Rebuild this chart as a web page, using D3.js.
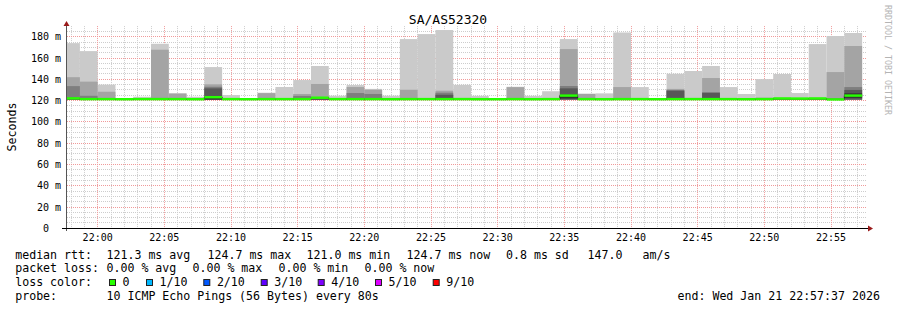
<!DOCTYPE html>
<html>
<head>
<meta charset="utf-8">
<script src="https://cdn.jsdelivr.net/npm/d3@7"></script>
<style>
  body { margin: 0; background: #fff; }
  svg { display: block; }
</style>
</head>
<body>
<svg width="897" height="310"></svg>
<script>
// time window and 80 s steps (end time of each step)
const viewStart = "21:57:42";
const viewEnd = "22:57:42";
const stepEnds = [
  "21:58:40", "22:00:00", "22:01:20", "22:02:40", "22:04:00", "22:05:20", "22:06:40", "22:08:00", "22:09:20",
  "22:10:40", "22:12:00", "22:13:20", "22:14:40", "22:16:00", "22:17:20", "22:18:40", "22:20:00", "22:21:20",
  "22:22:40", "22:24:00", "22:25:20", "22:26:40", "22:28:00", "22:29:20", "22:30:40", "22:32:00", "22:33:20",
  "22:34:40", "22:36:00", "22:37:20", "22:38:40", "22:40:00", "22:41:20", "22:42:40", "22:44:00", "22:45:20",
  "22:46:40", "22:48:00", "22:49:20", "22:50:40", "22:52:00", "22:53:20", "22:54:40", "22:56:00", "22:57:20"
];

// sorted ping rtt per step (ms): rtt10 = slowest ping ... rttLow = fastest pings
const rtt10 = [174.0, 166.5, 135.0, 122.2, 123.6, 173.4, 127.0, 123.6, 151.5, 125.2, 122.0, 127.4, 132.8, 139.3, 152.5,
               124.6, 134.6, 131.0, 124.6, 177.8, 182.5, 186.3, 134.8, 124.5, 121.9, 133.0, 124.5, 128.8, 177.8, 126.6,
               126.8, 184.0, 132.7, 122.0, 145.2, 147.8, 152.5, 132.7, 126.2, 140.2, 145.0, 127.1, 173.1, 180.7, 183.5];
const rtt9  = [142.0, 137.8, 128.3, 121.8, 122.0, 167.8, 126.5, 122.0, 135.3, 122.0, 121.6, 127.0, 122.2, 126.2, 135.6,
               122.0, 132.7, 130.2, 122.0, 130.2, 122.3, 129.3, 122.5, 122.0, 121.6, 132.6, 122.0, 122.0, 168.4, 126.2,
               122.0, 132.7, 122.0, 121.6, 131.0, 122.5, 141.2, 122.0, 122.0, 122.8, 122.2, 122.0, 122.2, 146.8, 171.3];
const rtt8  = [133.6, 124.5, 122.0, 121.5, 121.5, 122.5, 122.0, 121.5, 133.0, 121.5, 121.4, 122.0, 121.8, 124.4, 122.5,
               121.5, 127.1, 126.2, 121.5, 122.0, 121.8, 127.4, 121.8, 121.5, 121.4, 122.0, 121.5, 121.5, 133.7, 122.0,
               121.5, 122.0, 121.5, 121.4, 129.8, 121.8, 128.0, 121.5, 121.5, 121.8, 121.8, 121.5, 121.8, 122.0, 132.7];
const rtt7  = [122.5, 122.0, 121.5, 121.3, 121.3, 122.0, 121.5, 121.3, 131.5, 121.3, 121.3, 121.5, 121.5, 122.0, 122.0,
               121.3, 122.0, 122.0, 121.3, 121.5, 121.5, 125.5, 121.5, 121.3, 121.3, 121.5, 121.3, 121.3, 131.5, 121.5,
               121.3, 121.5, 121.3, 121.3, 129.3, 121.5, 127.1, 121.3, 121.3, 121.5, 121.5, 121.3, 121.5, 121.5, 130.0];
const rtt6  = [122.0, 121.5, 121.3, 121.2, 121.2, 121.5, 121.3, 121.2, 123.5, 121.2, 121.2, 121.3, 121.3, 121.5, 121.8,
               121.2, 121.5, 121.5, 121.2, 121.3, 121.3, 122.0, 121.3, 121.2, 121.2, 121.3, 121.2, 121.2, 125.5, 121.3,
               121.2, 121.3, 121.2, 121.2, 122.0, 121.3, 122.0, 121.2, 121.2, 121.3, 121.3, 121.2, 121.3, 121.3, 126.8];
const rtt5  = [121.2, 121.1, 121.0, 121.0, 121.0, 121.1, 121.0, 121.0, 121.0, 121.0, 121.0, 121.1, 121.0, 121.1, 121.2,
               121.0, 121.1, 121.0, 121.0, 121.1, 121.0, 121.1, 121.0, 121.0, 121.0, 121.1, 121.0, 121.0, 122.0, 121.0,
               121.0, 121.1, 121.0, 121.0, 121.1, 121.0, 121.1, 121.0, 121.0, 121.0, 121.1, 121.0, 121.1, 121.0, 122.6];
const rttLow = [120.9, 120.8, 120.9, 120.8, 120.9, 120.8, 120.9, 120.8, 120.8, 120.9, 120.8, 120.9, 120.8, 120.9, 120.9,
                120.8, 120.9, 120.8, 120.9, 120.8, 120.9, 120.8, 120.9, 120.8, 120.9, 120.8, 120.9, 120.8, 120.9, 120.8,
                120.9, 120.8, 120.9, 120.8, 120.9, 120.8, 120.9, 120.8, 120.9, 120.8, 120.9, 120.8, 120.9, 120.8, 120.9];
const medians = [122.1, 121.4, 121.4, 121.3, 121.4, 121.4, 121.4, 121.3, 123.2, 121.4, 121.3, 121.4, 121.4, 121.4, 122.7,
                 121.4, 121.4, 121.4, 121.3, 121.4, 121.4, 121.4, 121.4, 121.3, 121.3, 121.4, 121.3, 121.4, 124.7, 121.4,
                 121.3, 121.4, 121.4, 121.3, 121.4, 121.4, 121.4, 121.4, 121.3, 121.4, 122.0, 121.9, 122.0, 121.1, 124.7];

// legend texts
const rttStats = ["121.3 ms avg", "124.7 ms max", "121.0 ms min", "124.7 ms now", "0.8 ms sd", "147.0", "am/s"];
const lossStats = ["0.00 % avg", "0.00 % max", "0.00 % min", "0.00 % now"];
const lossLabels = ["0", "1/10", "2/10", "3/10", "4/10", "5/10", "9/10"];
const lossColors = ["#26ff00", "#00b8ff", "#0059ff", "#5e00ff", "#7e00ff", "#dd00ff", "#ff0000"];

const svg = d3.select("svg");
const mono = "DejaVu Sans Mono, monospace";
const parseTime = d3.timeParse("%Y-%m-%d %H:%M:%S");
const day = "2026-01-21 ";

const plotLeft = 67, plotRight = 867, plotBottom = 228.3, plotTop = 26.1;

const x = d3.scaleTime()
  .domain([parseTime(day + viewStart), parseTime(day + viewEnd)])
  .range([plotLeft, plotRight]);
const y = d3.scaleLinear().domain([0, 190]).range([plotBottom, plotTop]);

const px = v => Math.floor(v) + 0.5;

// grid: minor first, major on top
const grid = svg.append("g").attr("fill", "none").attr("stroke-dasharray", "1,1");
const yMajor = y.ticks(10);
const yMinor = y.ticks(40).filter(v => v > 0 && v < 190 && !yMajor.includes(v));
const xMajorT = x.ticks(d3.timeMinute.every(5));
const xMinorT = x.ticks(d3.timeMinute.every(1)).filter(t => t.getMinutes() % 5 !== 0);

grid.selectAll(".hmin").data(yMinor).join("line")
  .attr("x1", plotLeft).attr("x2", plotRight)
  .attr("y1", d => px(y(d))).attr("y2", d => px(y(d)))
  .attr("stroke", "#cdcdcd");
grid.selectAll(".vmin").data(xMinorT).join("line")
  .attr("x1", d => px(x(d))).attr("x2", d => px(x(d)))
  .attr("y1", plotTop).attr("y2", plotBottom)
  .attr("stroke", "#cdcdcd");
grid.selectAll(".hmaj").data(yMajor.filter(v => v > 0)).join("line")
  .attr("x1", plotLeft).attr("x2", plotRight)
  .attr("y1", d => px(y(d))).attr("y2", d => px(y(d)))
  .attr("stroke", "#f09a9a");
grid.selectAll(".vmaj").data(xMajorT).join("line")
  .attr("x1", d => px(x(d))).attr("x2", d => px(x(d)))
  .attr("y1", plotTop).attr("y2", plotBottom)
  .attr("stroke", "#f09a9a");

// steps
const steps = stepEnds.map((t, i) => {
  const end = parseTime(day + t);
  return { i, x0: Math.max(x(d3.timeSecond.offset(end, -80)), plotLeft), x1: x(end) };
});

// smoke: pairs of pings, outer pair lightest
const bands = [
  { hi: rtt10, lo: rttLow, color: "#cacaca" },
  { hi: rtt9,  lo: rttLow, color: "#a4a4a4" },
  { hi: rtt8,  lo: rttLow, color: "#7e7e7e" },
  { hi: rtt7,  lo: rttLow, color: "#585858" },
  { hi: rtt6,  lo: rtt5,   color: "#323232" }
];
const smoke = svg.append("g");
bands.forEach(b => {
  smoke.append("g").selectAll("rect").data(steps).join("rect")
    .attr("x", d => d.x0)
    .attr("width", d => d.x1 - d.x0)
    .attr("y", d => y(b.hi[d.i]))
    .attr("height", d => Math.max(0, y(b.lo[d.i]) - y(b.hi[d.i])))
    .attr("fill", b.color);
});

// median: thin dark step line, then loss-coloured band
const medLine = [];
steps.forEach(d => {
  medLine.push([d.x0, y(medians[d.i])]);
  medLine.push([d.x1, y(medians[d.i])]);
});
svg.append("path")
  .attr("d", d3.line()(medLine))
  .attr("fill", "none")
  .attr("stroke", "#202020")
  .attr("stroke-width", 1);

const swidth = 1.15;
svg.append("g").selectAll("rect").data(steps).join("rect")
  .attr("x", d => d.x0)
  .attr("width", d => d.x1 - d.x0)
  .attr("y", d => y(medians[d.i] + swidth))
  .attr("height", d => y(medians[d.i] - swidth) - y(medians[d.i] + swidth))
  .attr("fill", lossColors[0]);

// axes
svg.append("line")
  .attr("x1", 66.5).attr("x2", 66.5).attr("y1", 231).attr("y2", 25)
  .attr("stroke", "#555");
svg.append("path")
  .attr("d", "M63.5,26 L66.5,21 L69.5,26 Z")
  .attr("fill", "#9a1a1a");
svg.append("line")
  .attr("x1", 62).attr("x2", 869).attr("y1", 228.5).attr("y2", 228.5)
  .attr("stroke", "#000");
svg.append("path")
  .attr("d", "M868,225.5 L873,228.5 L868,231.5 Z")
  .attr("fill", "#9a1a1a");

// y labels
svg.append("g").selectAll("text").data(yMajor).join("text")
  .attr("x", d => d === 0 ? 49 : 61)
  .attr("y", d => px(y(d)) + 3.6)
  .attr("text-anchor", "end")
  .attr("font-family", mono)
  .attr("font-size", "10px")
  .attr("fill", "#000")
  .text(d => d === 0 ? "0" : d + " m");

// x labels
svg.append("g").selectAll("text").data(xMajorT).join("text")
  .attr("x", d => x(d))
  .attr("y", 241)
  .attr("text-anchor", "middle")
  .attr("font-family", mono)
  .attr("font-size", "10px")
  .attr("fill", "#000")
  .text(d3.timeFormat("%H:%M"));

// title
svg.append("text")
  .attr("x", 448).attr("y", 24)
  .attr("text-anchor", "middle")
  .attr("font-family", mono)
  .attr("font-size", "13px")
  .attr("fill", "#000")
  .text("SA/AS52320");

// y axis title
svg.append("text")
  .attr("transform", "translate(15.5,127) rotate(-90)")
  .attr("text-anchor", "middle")
  .attr("font-family", mono)
  .attr("font-size", "11.6px")
  .attr("fill", "#000")
  .text("Seconds");

// watermark
svg.append("text")
  .attr("transform", "translate(885,5) rotate(90)")
  .attr("font-family", mono)
  .attr("font-size", "8.3px")
  .attr("fill", "#b4b4b4")
  .text("RRDTOOL / TOBI OETIKER");

// legend
const legend = svg.append("g")
  .attr("font-family", mono)
  .attr("font-size", "11.6px")
  .attr("fill", "#000")
  .style("white-space", "pre");

const rowY = [258.5, 272, 286, 300];
const labelX = 15.2, valueX = 106.5;

legend.append("text").attr("x", labelX).attr("y", rowY[0]).text("median rtt:");
const rttX = [106.5, 207.5, 306.5, 406.5, 506, 587.5, 642.5];
rttStats.forEach((s, i) => legend.append("text").attr("x", rttX[i]).attr("y", rowY[0]).text(s));

legend.append("text").attr("x", labelX).attr("y", rowY[1]).text("packet loss:");
const lossX = [106.5, 192.5, 278.5, 364.5];
lossStats.forEach((s, i) => legend.append("text").attr("x", lossX[i]).attr("y", rowY[1]).text(s));

legend.append("text").attr("x", labelX).attr("y", rowY[2]).text("loss color:");
const boxX = [109, 146, 203.3, 260.7, 317.7, 375, 432.7];
lossLabels.forEach((s, i) => {
  legend.append("rect")
    .attr("x", boxX[i] + 0.5).attr("y", 279.5)
    .attr("width", 6).attr("height", 6)
    .attr("fill", lossColors[i])
    .attr("stroke", "#222").attr("stroke-width", 1);
  legend.append("text").attr("x", boxX[i] + 13.6).attr("y", rowY[2]).text(s);
});

legend.append("text").attr("x", labelX).attr("y", rowY[3]).text("probe:");
legend.append("text").attr("x", valueX).attr("y", rowY[3]).text("10 ICMP Echo Pings (56 Bytes) every 80s");
legend.append("text").attr("x", 677.5).attr("y", rowY[3]).text("end: Wed Jan 21 22:57:37 2026");
</script>
</body>
</html>
